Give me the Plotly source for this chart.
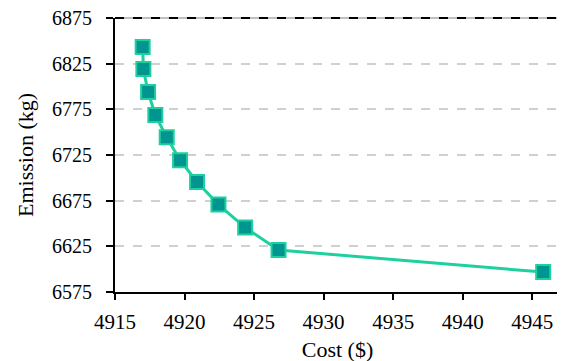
import plotly.graph_objects as go

cost = [4916.99, 4917.04, 4917.38, 4917.9, 4918.72, 4919.68, 4920.9, 4922.44, 4924.36, 4926.76, 4945.79]
emission = [6843.3, 6819.1, 6793.9, 6768.7, 6744.5, 6719.3, 6695.5, 6670.7, 6645.5, 6621.0, 6596.8]
x_ticks = [4915, 4920, 4925, 4930, 4935, 4940, 4945]
y_ticks = [6575, 6625, 6675, 6725, 6775, 6825, 6875]

fig = go.Figure()
fig.add_trace(go.Scatter(
    x=cost, y=emission, mode="lines+markers",
    line=dict(color="#1ecf9f", width=3),
    marker=dict(symbol="square", size=14, color="#00968f",
                line=dict(color="#1ecf9f", width=2)),
    showlegend=False, cliponaxis=False,
))

font = "Liberation Serif"
# page body has an 8px default margin, so offsets are compensated here
fig.update_layout(
    width=565, height=361,
    margin=dict(l=107, r=13, t=10, b=77, autoexpand=False),
    paper_bgcolor="white", plot_bgcolor="white",
    font=dict(family=font, size=21, color="black"),
)
fig.update_xaxes(
    range=[4915, 4947], tickmode="array", tickvals=x_ticks,
    ticktext=[str(v) for v in x_ticks],
    ticks="outside", ticklen=6,
    tickwidth=1.5, tickcolor="black", showline=True, linecolor="black",
    linewidth=2, showgrid=False, zeroline=False, automargin=False,
    ticklabeloverflow="allow", ticklabelstandoff=4,
    tickfont_family=font, tickfont_size=21, tickfont_color="black",
    title_text="Cost ($)", title_font_family=font, title_font_size=22,
    title_standoff=8,
)
fig.update_yaxes(
    range=[6575, 6875], tickmode="array", tickvals=y_ticks,
    ticktext=[str(v) for v in y_ticks],
    ticks="outside", ticklen=7,
    tickwidth=1.5, tickcolor="black", showline=True, linecolor="black",
    linewidth=2, showgrid=True, gridcolor="#d0d0d0", griddash="dash",
    gridwidth=1.5, zeroline=False, automargin=False,
    ticklabeloverflow="allow", ticklabelstandoff=10,
    tickfont_family=font, tickfont_size=20, tickfont_color="black",
    title_text="Emission (kg)", title_font_family=font, title_font_size=22,
    title_standoff=12,
)
fig.update_layout(shapes=[
    dict(type="line", xref="paper", yref="paper", x0=0, x1=1, y0=1, y1=1,
         line=dict(color="#c0c0c0", width=2)),
    dict(type="line", xref="paper", yref="paper", x0=0, x1=1, y0=1, y1=1,
         line=dict(color="black", width=2, dash="dash")),
    dict(type="line", xref="paper", yref="paper", x0=1, x1=1, y0=0, y1=1,
         line=dict(color="black", width=2)),
])

fig.write_html("out.html")
